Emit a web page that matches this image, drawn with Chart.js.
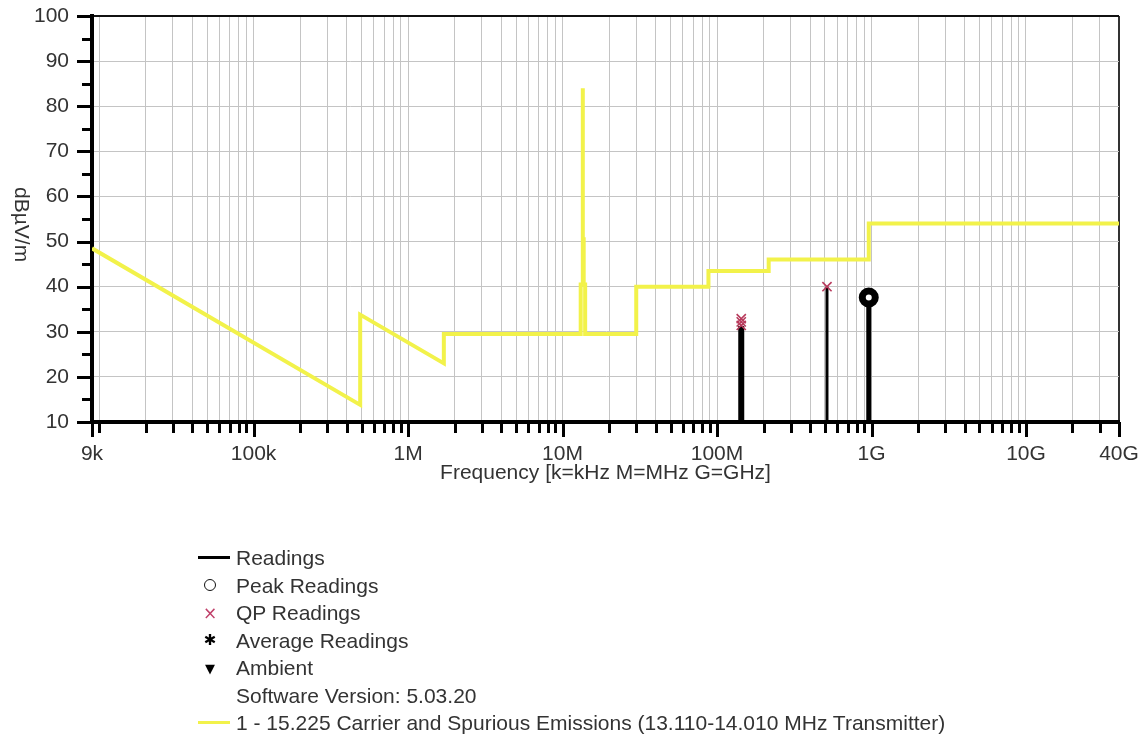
<!DOCTYPE html>
<html>
<head>
<meta charset="utf-8">
<title>Radiated Emissions Scan</title>
<script src="https://cdn.jsdelivr.net/npm/chart.js@4.4.1/dist/chart.umd.min.js"></script>
<style>
  html, body { margin: 0; padding: 0; background: #fff; }
  #wrap { position: relative; width: 1143px; height: 738px; overflow: hidden;
          font-family: "Liberation Sans", Arial, sans-serif; color: #333; }
  #chart { position: absolute; left: 0; top: 0; }
  #ytitle { position: absolute; left: 12px; top: 187px; writing-mode: vertical-rl;
            font-size: 21px; line-height: 20px; white-space: nowrap; }
  #legend { position: absolute; left: 190px; top: 544px; font-size: 21px; }
  .item { position: relative; height: 27.5px; line-height: 27.5px; padding-left: 46px; white-space: nowrap; }
  .sym { position: absolute; top: 50%; }
  .sym.line { left: 8px; width: 32px; height: 0; margin-top: -1.5px; border-top: 3px solid #000; }
  .sym.line.limit { border-top-color: #f2f24a; }
  .sym.circle { left: 14px; width: 12px; height: 12px; margin-top: -6px; box-sizing: border-box;
                border: 1.6px solid #111; border-radius: 50%; }
  .sym.txt { left: 10px; width: 20px; text-align: center; line-height: 1; transform: translateY(-50%);
             font-family: "DejaVu Sans", sans-serif; }
  .sym.qp { color: #c0406a; font-size: 17px; }
  .sym.avg { color: #000; font-size: 15px; }
  .sym.amb { color: #000; font-size: 13px; }
</style>
</head>
<body>
<div id="wrap">
  <canvas id="chart" width="1143" height="738"></canvas>
  <div id="ytitle">dBµV/m</div>
  <div id="legend"></div>
</div>
<script>
// Frequencies are in MHz, levels in dBµV/m.

// Limit line: 15.209 general limits with the 15.225 carrier mask around 13.56 MHz
const limitFreq  = [0.009, 0.49, 0.49, 1.705, 1.705, 13.11, 13.11, 13.41, 13.41, 13.553, 13.553,
                    13.567, 13.567, 13.71, 13.71, 14.01, 14.01, 30, 30, 88, 88, 216, 216, 960, 960, 40000];
const limitLevel = [48.5, 13.8, 33.8, 23.0, 29.5, 29.5, 40.5, 40.5, 50.5, 50.5, 84.0,
                    84.0, 50.5, 50.5, 40.5, 40.5, 29.5, 29.5, 40.0, 40.0, 43.5, 43.5, 46.0, 46.0, 54.0, 54.0];

// Measured readings (stems from the axis floor)
const readingFreq  = [143.5, 515, 960];
const readingLevel = [31.3, 40.0, 37.6];

// Peak detector readings
const peakFreq  = [960];
const peakLevel = [37.6];

// Quasi-peak detector readings
const qpFreq  = [143.5, 143.5, 143.5, 515];
const qpLevel = [31.4, 32.2, 32.9, 40.0];

// Axis ticks
const xTickValues = [0.009, 0.1, 1, 10, 100, 1000, 10000, 40000];
const xTickLabels = ['9k', '100k', '1M', '10M', '100M', '1G', '10G', '40G'];
const yMin = 10, yMax = 100, yStep = 10;

// Legend entries
const legendLabels = ['Readings', 'Peak Readings', 'QP Readings', 'Average Readings', 'Ambient',
                      'Software Version: 5.03.20',
                      '1 - 15.225 Carrier and Spurious Emissions (13.110-14.010 MHz Transmitter)'];
const legendKinds  = ['line', 'circle', 'qp', 'avg', 'amb', 'none', 'limit'];

// Stem widths for the reading lines
const stemWidth = [6, 3, 5];

// Decade grid: 1..9 x 10^n between the end frequencies
const xMin = xTickValues[0], xMax = xTickValues[xTickValues.length - 1];
const gridFreq = [xMin];
[0.01, 0.1, 1, 10, 100, 1000, 10000].forEach(d => {
  for (let m = 1; m <= 9; m++) {
    const v = +(m * d).toPrecision(6);
    if (v > xMin && v < xMax) gridFreq.push(v);
  }
});
gridFreq.push(xMax);

const labelIndex = v => xTickValues.findIndex(t => Math.abs(t - v) / t < 1e-6);

const FONT = '"Liberation Sans", Arial, sans-serif';
Chart.defaults.font.family = FONT;

// Keep the plot frame exactly where the layout padding puts it
const noEdgePadding = s => { s.paddingTop = 0; s.paddingBottom = 0; s.paddingLeft = 0; s.paddingRight = 0; };

const tickMarks = {
  id: 'tickMarks',
  afterDraw(chart) {
    const { ctx, chartArea: a, scales: { x, y } } = chart;
    ctx.save();
    ctx.strokeStyle = '#000';
    ctx.lineWidth = 3;
    ctx.beginPath();
    x.ticks.forEach(t => {
      const px = Math.round(x.getPixelForValue(t.value)) + 0.5;
      const len = labelIndex(t.value) >= 0 ? 15 : 11;
      ctx.moveTo(px, a.bottom);
      ctx.lineTo(px, a.bottom + len);
    });
    y.ticks.forEach(t => {
      const py = Math.round(y.getPixelForValue(t.value)) + 0.5;
      ctx.moveTo(a.left - 15, py);
      ctx.lineTo(a.left, py);
      if (t.value < yMax) {
        const pm = Math.round(y.getPixelForValue(t.value + yStep / 2)) + 0.5;
        ctx.moveTo(a.left - 10, pm);
        ctx.lineTo(a.left, pm);
      }
    });
    ctx.stroke();
    ctx.restore();
  }
};

const datasets = [];
datasets.push({
  label: 'QP Readings',
  data: qpFreq.map((f, i) => ({ x: f, y: qpLevel[i] })),
  showLine: false, pointStyle: 'crossRot', pointRadius: 6.5,
  pointBorderColor: '#b83a5c', pointBorderWidth: 1.6, order: 0
});
datasets.push({
  label: 'Peak Readings',
  data: peakFreq.map((f, i) => ({ x: f, y: peakLevel[i] })),
  showLine: false, pointStyle: 'circle', pointRadius: 6.5,
  pointBorderColor: '#000', pointBackgroundColor: '#fff', pointBorderWidth: 7, order: 1
});
readingFreq.forEach((f, i) => {
  datasets.push({
    label: 'Readings',
    data: [{ x: f, y: yMin }, { x: f, y: readingLevel[i] }],
    showLine: true, borderColor: '#000', borderWidth: stemWidth[i],
    borderCapStyle: 'butt', pointRadius: 0, order: 2
  });
});
datasets.push({
  label: legendLabels[6],
  data: limitFreq.map((f, i) => ({ x: f, y: limitLevel[i] })),
  showLine: true, borderColor: '#f2f24a', borderWidth: 4, borderJoinStyle: 'miter',
  borderCapStyle: 'butt', pointRadius: 0, order: 3
});

new Chart(document.getElementById('chart'), {
  type: 'scatter',
  data: { datasets },
  options: {
    responsive: false,
    animation: false,
    events: [],
    layout: { padding: { left: 0, top: 16, right: 24, bottom: 252 } },
    plugins: { legend: { display: false }, tooltip: { enabled: false } },
    scales: {
      x: {
        type: 'logarithmic',
        position: 'bottom',
        bounds: 'data',
        min: xMin, max: xMax,
        afterBuildTicks: s => { s.ticks = gridFreq.map(v => ({ value: v })); },
        afterFit: s => { s.height = 64; noEdgePadding(s); },
        ticks: {
          autoSkip: false, maxRotation: 0, minRotation: 0, padding: 20,
          font: { size: 21 }, color: '#333',
          callback: v => { const i = labelIndex(v); return i >= 0 ? xTickLabels[i] : ''; }
        },
        grid: {
          drawTicks: false,
          color: c => (c.tick && c.tick.value === xMax) ? '#333' : '#c4c4c4',
          lineWidth: c => (c.tick && c.tick.value === xMax) ? 2 : 1
        },
        border: { color: '#000', width: 4 },
        title: { display: true, text: 'Frequency [k=kHz M=MHz G=GHz]', font: { size: 21 },
                 color: '#333', padding: 0 }
      },
      y: {
        type: 'linear',
        min: yMin, max: yMax,
        afterFit: s => { s.width = 92; noEdgePadding(s); },
        ticks: { stepSize: yStep, padding: 23, font: { size: 21 }, color: '#333' },
        grid: {
          drawTicks: false,
          color: c => (c.tick && c.tick.value === yMax) ? '#111' : '#c4c4c4',
          lineWidth: c => (c.tick && c.tick.value === yMax) ? 2 : 1
        },
        border: { color: '#000', width: 4 }
      }
    }
  },
  plugins: [tickMarks]
});

// Legend below the plot
const legend = document.getElementById('legend');
legendLabels.forEach((text, i) => {
  const row = document.createElement('div');
  row.className = 'item';
  const kind = legendKinds[i];
  if (kind !== 'none') {
    const s = document.createElement('span');
    if (kind === 'line') s.className = 'sym line';
    else if (kind === 'limit') s.className = 'sym line limit';
    else if (kind === 'circle') s.className = 'sym circle';
    else if (kind === 'qp') { s.className = 'sym txt qp'; s.textContent = '×'; }
    else if (kind === 'avg') { s.className = 'sym txt avg'; s.textContent = '✱'; }
    else if (kind === 'amb') { s.className = 'sym txt amb'; s.textContent = '▼'; }
    row.appendChild(s);
  }
  row.appendChild(document.createTextNode(text));
  legend.appendChild(row);
});
</script>
</body>
</html>
